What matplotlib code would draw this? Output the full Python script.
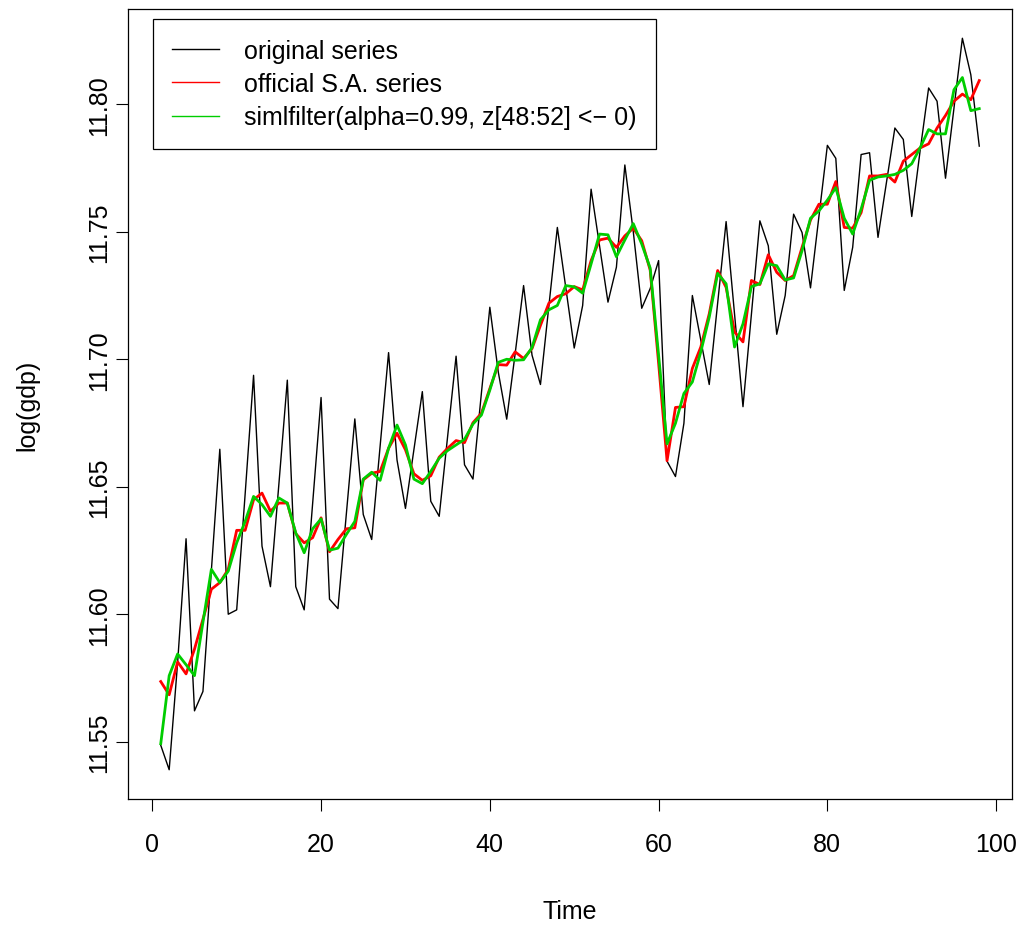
import numpy as np
import matplotlib.pyplot as plt
from matplotlib.lines import Line2D

plt.rcParams['font.family'] = ['Liberation Sans', 'DejaVu Sans']

# log gdp, quarterly, t = 1..98
time = np.arange(1, 99)

original = [11.5486, 11.5390, 11.5810, 11.6296, 11.5621, 11.5697, 11.6172, 11.6647,
            11.6000, 11.6017, 11.6470, 11.6937, 11.6267, 11.6108, 11.6510, 11.6918,
            11.6108, 11.6017, 11.6434, 11.6850, 11.6059, 11.6022, 11.6395, 11.6766,
            11.6391, 11.6293, 11.6660, 11.7026, 11.6605, 11.6415, 11.6645, 11.6873,
            11.6443, 11.6384, 11.6698, 11.7012, 11.6586, 11.6530, 11.6867, 11.7204,
            11.6950, 11.6765, 11.7022, 11.7289, 11.7016, 11.6901, 11.7210, 11.7517,
            11.7281, 11.7044, 11.7211, 11.7667, 11.7445, 11.7224, 11.7361, 11.7762,
            11.7500, 11.7200, 11.7277, 11.7387, 11.6600, 11.6540, 11.6749, 11.7250,
            11.7075, 11.6901, 11.7221, 11.7540, 11.7177, 11.6814, 11.7177, 11.7543,
            11.7445, 11.7098, 11.7250, 11.7569, 11.7497, 11.7280, 11.7560, 11.7839,
            11.7788, 11.7270, 11.7439, 11.7803, 11.7810, 11.7478, 11.7693, 11.7907,
            11.7862, 11.7560, 11.7820, 11.8064, 11.8012, 11.7710, 11.7984, 11.8259,
            11.8116, 11.7836]

official_sa = [11.5736, 11.5684, 11.5813, 11.5766, 11.5863, 11.5980, 11.6098, 11.6124,
               11.6176, 11.6329, 11.6329, 11.6449, 11.6475, 11.6404, 11.6436, 11.6436,
               11.6316, 11.6280, 11.6300, 11.6378, 11.6245, 11.6293, 11.6335, 11.6339,
               11.6527, 11.6553, 11.6560, 11.6651, 11.6710, 11.6645, 11.6551, 11.6525,
               11.6543, 11.6616, 11.6651, 11.6681, 11.6673, 11.6751, 11.6788, 11.6885,
               11.6979, 11.6977, 11.7029, 11.7003, 11.7042, 11.7133, 11.7220, 11.7246,
               11.7257, 11.7285, 11.7272, 11.7387, 11.7468, 11.7475, 11.7439, 11.7484,
               11.7514, 11.7465, 11.7350, 11.6985, 11.6602, 11.6811, 11.6814, 11.6964,
               11.7048, 11.7178, 11.7348, 11.7282, 11.7107, 11.7068, 11.7309, 11.7293,
               11.7410, 11.7341, 11.7309, 11.7328, 11.7439, 11.7546, 11.7608, 11.7608,
               11.7697, 11.7517, 11.7514, 11.7575, 11.7719, 11.7719, 11.7725, 11.7695,
               11.7777, 11.7803, 11.7829, 11.7845, 11.7907, 11.7956, 11.8012, 11.8040,
               11.8018, 11.8093]

simlfilter = [11.5492, 11.5759, 11.5844, 11.5802, 11.5759, 11.5968, 11.6176, 11.6124,
              11.6169, 11.6280, 11.6364, 11.6462, 11.6430, 11.6384, 11.6456, 11.6436,
              11.6319, 11.6241, 11.6335, 11.6374, 11.6251, 11.6259, 11.6313, 11.6364,
              11.6530, 11.6557, 11.6525, 11.6651, 11.6742, 11.6664, 11.6530, 11.6512,
              11.6560, 11.6612, 11.6642, 11.6664, 11.6686, 11.6746, 11.6781, 11.6879,
              11.6988, 11.7000, 11.6996, 11.6998, 11.7046, 11.7155, 11.7194, 11.7211,
              11.7289, 11.7284, 11.7259, 11.7374, 11.7491, 11.7488, 11.7402, 11.7468,
              11.7532, 11.7452, 11.7358, 11.7016, 11.6668, 11.6749, 11.6866, 11.6911,
              11.7029, 11.7165, 11.7337, 11.7296, 11.7048, 11.7139, 11.7285, 11.7296,
              11.7374, 11.7367, 11.7311, 11.7319, 11.7426, 11.7553, 11.7582, 11.7624,
              11.7673, 11.7553, 11.7491, 11.7589, 11.7702, 11.7715, 11.7719, 11.7725,
              11.7741, 11.7767, 11.7830, 11.7901, 11.7884, 11.7884, 11.8057, 11.8105,
              11.7975, 11.7983]

labels = ['original series', 'official S.A. series',
          'simlfilter(alpha=0.99, z[48:52] <\u2212 0)']
colours = ['black', '#FF0000', '#00CD00']
fs = 18

fig = plt.figure(figsize=(10.28, 9.28), dpi=100)
ax = fig.add_axes([128 / 1028, 1 - 800 / 928, 884 / 1028, 790 / 928])

ax.plot(time, original, color=colours[0], lw=1.0)
ax.plot(time, official_sa, color=colours[1], lw=2.0)
ax.plot(time, simlfilter, color=colours[2], lw=2.0)

# R style 4% padding around the data
allv = np.concatenate([original, official_sa, simlfilter])
ylo, yhi = allv.min(), allv.max()
ax.set_ylim(ylo - 0.04 * (yhi - ylo), yhi + 0.04 * (yhi - ylo))
ax.set_xlim(1 - 0.04 * 97, 98 + 0.04 * 97)

ax.set_xticks([0, 20, 40, 60, 80, 100])
ax.set_yticks([11.55, 11.60, 11.65, 11.70, 11.75, 11.80])
ax.set_yticklabels(['11.55', '11.60', '11.65', '11.70', '11.75', '11.80'],
                   rotation=90, va='center')
ax.tick_params(direction='out', length=8.6, width=0.8, labelsize=fs)
ax.tick_params(axis='x', pad=15.5)
ax.tick_params(axis='y', pad=3.5)
for s in ax.spines.values():
    s.set_linewidth(0.9)

ax.set_xlabel('Time', fontsize=fs)
ax.set_ylabel('log(gdp)', fontsize=fs)
ax.xaxis.set_label_coords(0.5, -0.126)
ax.yaxis.set_label_coords(-0.100, 0.5)

# legend lines are thin in the original
handles = [Line2D([], [], color=c, lw=1.0) for c in colours]
leg = ax.legend(handles, labels, loc='upper left', bbox_to_anchor=(0.028, 0.987),
                borderaxespad=0, fontsize=fs, fancybox=False, framealpha=1,
                edgecolor='black', handlelength=1.85, handletextpad=1.03,
                labelspacing=0.37, borderpad=0.78)
leg.get_frame().set_linewidth(0.9)

plt.savefig('out.png', dpi=100)
